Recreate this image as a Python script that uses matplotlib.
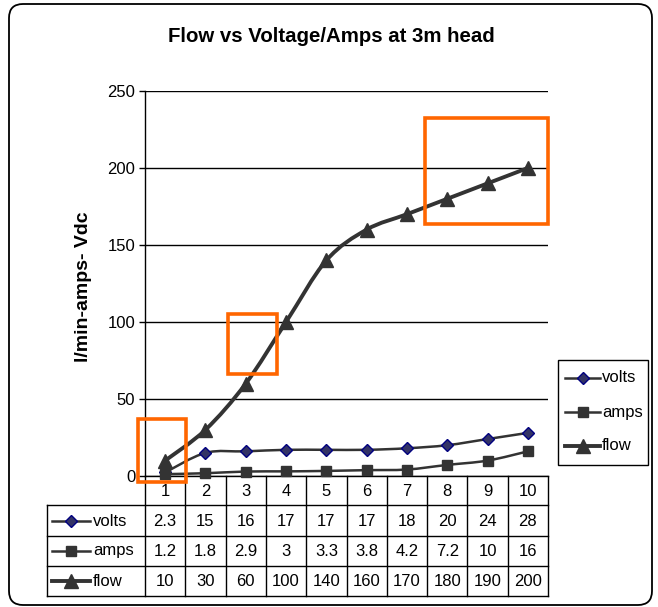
import matplotlib
matplotlib.use('Agg')
import matplotlib.pyplot as plt
import matplotlib.transforms as mtransforms
from matplotlib.path import Path
from matplotlib.patches import PathPatch, Rectangle, FancyBboxPatch
from matplotlib.lines import Line2D
import numpy as np

plt.rcParams['font.family'] = ['Liberation Sans', 'DejaVu Sans']

# ---------------- data ----------------
categories = [1, 2, 3, 4, 5, 6, 7, 8, 9, 10]
volts = [2.3, 15, 16, 17, 17, 17, 18, 20, 24, 28]
amps = [1.2, 1.8, 2.9, 3, 3.3, 3.8, 4.2, 7.2, 10, 16]
flow = [10, 30, 60, 100, 140, 160, 170, 180, 190, 200]
series_names = ['volts', 'amps', 'flow']
y_ticks = [0, 50, 100, 150, 200, 250]
title_text = 'Flow vs Voltage/Amps at 3m head'
ylabel_text = 'l/min-amps- Vdc'

# ---------------- layout helpers (pixels) ----------------
W, H = 658, 607
fig = plt.figure(figsize=(W / 100, H / 100), dpi=100)
fig.patch.set_facecolor('white')


def fx(px):
    return px / W


def fy(py):
    return 1 - py / H


AX_L, AX_R, AX_T, AX_B = 145, 548, 91, 476
ax = fig.add_axes([fx(AX_L), fy(AX_B), fx(AX_R) - fx(AX_L), fy(AX_T) - fy(AX_B)])
ax.set_xlim(0.5, 10.5)
ax.set_ylim(0, 250)
ax.set_facecolor('white')

# axes styling
for s in ['top', 'right']:
    ax.spines[s].set_visible(False)
ax.spines['left'].set_color('black')
ax.spines['bottom'].set_color('black')
ax.spines['left'].set_linewidth(1)
ax.spines['bottom'].set_linewidth(1)
ax.set_yticks(y_ticks)
ax.set_xticks([])
ax.tick_params(axis='y', direction='out', length=4, width=1, labelsize=12, pad=3)
ax.yaxis.grid(True, color='black', linewidth=1)
ax.set_axisbelow(True)

# ---------------- series ----------------
LINE_COLOR = '#333333'
styles = {
    'volts': dict(marker='D', ms=6.5, mfc='#333366', mec='#000080', mew=1.0, lw=1.8),
    'amps': dict(marker='s', ms=7, mfc='#333333', mec='#333333', mew=1.0, lw=1.8),
    'flow': dict(marker='^', ms=10, mfc='#333333', mec='#333333', mew=1.0, lw=2.8),
}
series_values = {'volts': volts, 'amps': amps, 'flow': flow}


def smooth_path(xs, ys):
    pts = np.column_stack([xs, ys]).astype(float)
    n = len(pts)
    verts = [pts[0]]
    codes = [Path.MOVETO]
    for i in range(n - 1):
        p0 = pts[i - 1] if i > 0 else pts[i]
        p1 = pts[i]
        p2 = pts[i + 1]
        p3 = pts[i + 2] if i + 2 < n else pts[i + 1]
        c1 = p1 + (p2 - p0) / 6.0
        c2 = p2 - (p3 - p1) / 6.0
        verts += [c1, c2, p2]
        codes += [Path.CURVE4] * 3
    return Path(verts, codes)


for z, name in enumerate(series_names):
    st = styles[name]
    vals = series_values[name]
    patch = PathPatch(smooth_path(categories, vals), fill=False, edgecolor=LINE_COLOR,
                      lw=st['lw'], zorder=3 + z, clip_on=False, joinstyle='round')
    ax.add_patch(patch)
    ax.plot(categories, vals, linestyle='none', marker=st['marker'], ms=st['ms'],
            mfc=st['mfc'], mec=st['mec'], mew=st['mew'], zorder=3.5 + z, clip_on=False)

# ---------------- title & y label ----------------
fig.text(fx(331), fy(36), title_text, ha='center', va='center', fontsize=14.7, fontweight='bold')
fig.text(fx(84), fy(287), ylabel_text, ha='center', va='center', rotation=90,
         fontsize=14, fontweight='bold')

# ---------------- data table ----------------
trans = mtransforms.blended_transform_factory(ax.transData, ax.transAxes)
px_per_unit = (AX_R - AX_L) / 10.0
TBL_L = 47
xL = 0.5 + (TBL_L - AX_L) / px_per_unit


def ay(py):
    return (AX_B - py) / (AX_B - AX_T)


row_edges = [476, 505, 536, 566, 596]
for py in row_edges[1:]:
    ax.add_line(Line2D([xL, 10.5], [ay(py), ay(py)], transform=trans, color='black',
                       lw=1, clip_on=False))
for k in range(11):
    xv = 0.5 + k
    ax.add_line(Line2D([xv, xv], [ay(476), ay(596)], transform=trans, color='black',
                       lw=1, clip_on=False))
ax.add_line(Line2D([xL, xL], [ay(505), ay(596)], transform=trans, color='black',
                   lw=1, clip_on=False))

# header row (category numbers)
for c in categories:
    ax.text(c, ay(491), str(c), transform=trans, ha='center', va='center', fontsize=12)

row_centers = {'volts': 521, 'amps': 551, 'flow': 581}
for name in series_names:
    yc = row_centers[name]
    for c, v in zip(categories, series_values[name]):
        ax.text(c, ay(yc), '{:g}'.format(v), transform=trans, ha='center', va='center',
                fontsize=12)
    st = styles[name]
    # legend key inside table
    fig.add_artist(Line2D([fx(52), fx(90)], [fy(yc), fy(yc)], color=LINE_COLOR,
                          lw=st['lw'], transform=fig.transFigure))
    fig.add_artist(Line2D([fx(71)], [fy(yc)], marker=st['marker'], ms=st['ms'],
                          mfc=st['mfc'], mec=st['mec'], mew=st['mew'], linestyle='none',
                          transform=fig.transFigure))
    fig.text(fx(93), fy(yc), name, ha='left', va='center', fontsize=12)

# ---------------- legend (right) ----------------
fig.add_artist(Rectangle((fx(558), fy(465)), fx(648) - fx(558), fy(360) - fy(465),
                         transform=fig.transFigure, fill=False, edgecolor='black', lw=1))
leg_y = {'volts': 378, 'amps': 412, 'flow': 446}
for name in series_names:
    st = styles[name]
    yc = leg_y[name]
    fig.add_artist(Line2D([fx(565), fx(600)], [fy(yc), fy(yc)], color=LINE_COLOR,
                          lw=st['lw'], transform=fig.transFigure))
    fig.add_artist(Line2D([fx(583)], [fy(yc)], marker=st['marker'], ms=st['ms'],
                          mfc=st['mfc'], mec=st['mec'], mew=st['mew'], linestyle='none',
                          transform=fig.transFigure))
    fig.text(fx(602), fy(yc), name, ha='left', va='center', fontsize=12)

# ---------------- orange highlight boxes ----------------
ORANGE = '#FF6600'
for (x0, y0, x1, y1) in [(138, 419, 186, 482), (228, 314, 277, 374), (425, 118, 548, 224)]:
    fig.add_artist(Rectangle((fx(x0), fy(y1)), fx(x1) - fx(x0), fy(y0) - fy(y1),
                             transform=fig.transFigure, fill=False, edgecolor=ORANGE,
                             lw=2.6, zorder=10))

# ---------------- outer rounded border ----------------
fig.add_artist(FancyBboxPatch((9, 2), 643, 601, boxstyle='round,pad=0,rounding_size=14',
                              transform=mtransforms.IdentityTransform(), fill=False,
                              edgecolor='black', lw=1.3))

fig.savefig('out.png', dpi=100)
